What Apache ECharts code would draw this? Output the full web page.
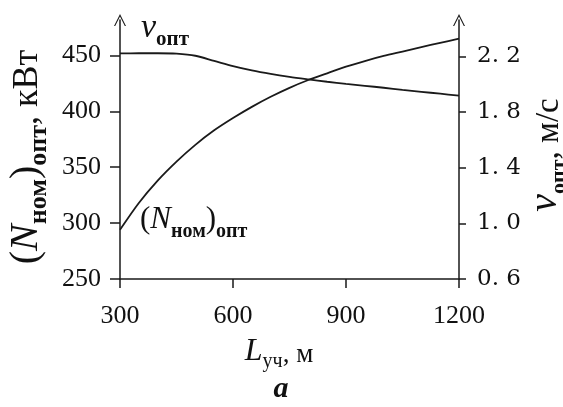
<!DOCTYPE html>
<html>
<head>
<meta charset="utf-8">
<script src="https://cdn.jsdelivr.net/npm/echarts@6/dist/echarts.min.js"></script>
<style>
html,body{margin:0;padding:0;background:#fff;}
#c{width:563px;height:407px;}
</style>
</head>
<body>
<div id="c"></div>
<script>
// Data
var L = [300, 350, 400, 450, 500, 550, 600, 650, 700, 750, 800, 850, 900, 950, 1000, 1050, 1100, 1150, 1200];
var N_opt = [294, 318, 338, 355, 370, 383, 394, 404, 413, 421, 428, 434, 440, 445, 449.5, 453.5, 457.5, 461.3, 465];
var v_opt = [2.222, 2.223, 2.223, 2.220, 2.205, 2.168, 2.130, 2.099, 2.074, 2.053, 2.035, 2.018, 2.003, 1.989, 1.975, 1.960, 1.946, 1.932, 1.918];
var xTicks = [300, 600, 900, 1200];
var leftTicks = [250, 300, 350, 400, 450];
var rightTicks = [0.6, 1.0, 1.4, 1.8, 2.2];

var ink = '#1a1a1a';
var serif = 'Liberation Serif';
var arrow = 'path://M0,12 L6,0 L12,12 L10.8,12 L6,2.4 L1.2,12 Z';

var chart = echarts.init(document.getElementById('c'), null, {renderer: 'canvas'});

function pairs(xs, ys) { return xs.map(function (x, i) { return [x, ys[i]]; }); }

var option = {
  backgroundColor: '#fff',
  animation: false,
  grid: {left: 120, right: 104, top: 20, bottom: 128, containLabel: false},
  xAxis: {
    type: 'value', min: 300, max: 1200, interval: 300,
    axisLine: {show: true, lineStyle: {color: ink, width: 1.5}},
    axisTick: {show: true, inside: false, length: 9, lineStyle: {color: ink, width: 1.5}},
    axisLabel: {margin: 24, fontFamily: serif, fontSize: 26, color: '#111', customValues: xTicks,
      formatter: function (v) { return String(v); }},
    splitLine: {show: false}
  },
  yAxis: [{
    type: 'value', position: 'left', min: 250, max: 481.7,
    axisLine: {show: true, symbol: ['none', arrow], symbolSize: [12, 12], symbolOffset: [0, 0], lineStyle: {color: ink, width: 1.5}},
    axisTick: {show: true, inside: false, length: 10, customValues: leftTicks, lineStyle: {color: ink, width: 1.5}},
    axisLabel: {margin: 19, fontFamily: serif, fontSize: 26, color: '#111', customValues: leftTicks,
      formatter: function (v) { return String(v); }},
    splitLine: {show: false}
  }, {
    type: 'value', position: 'right', min: 0.6, max: 2.462,
    axisLine: {show: true, symbol: ['none', arrow], symbolSize: [12, 12], symbolOffset: [0, 0], lineStyle: {color: ink, width: 1.5}},
    axisTick: {show: true, inside: false, length: 7, customValues: rightTicks, lineStyle: {color: ink, width: 1.5}},
    axisLabel: {margin: 18, fontFamily: 'DejaVu Serif', fontSize: 23, color: '#111', customValues: rightTicks,
      formatter: function (v) { return v.toFixed(1).replace('.', '. '); }},
    splitLine: {show: false}
  }],
  series: [{
    type: 'line', yAxisIndex: 0, data: pairs(L, N_opt), smooth: 0.3, symbol: 'none',
    lineStyle: {color: ink, width: 1.8}
  }, {
    type: 'line', yAxisIndex: 1, data: pairs(L, v_opt), smooth: 0.3, symbol: 'none',
    lineStyle: {color: ink, width: 1.8}
  }],
  graphic: [
    { // left axis name
      type: 'text', x: 29, y: 157, rotation: Math.PI / 2,
      style: {
        text: '{b|(}{i|N}{s|ном}{b|)}{s|опт}{u|, кВт}',
        align: 'center', verticalAlign: 'middle', fill: '#111',
        rich: {
          b: {fontFamily: serif, fontSize: 40, padding: [0, 0, 6, 0], verticalAlign: 'bottom', fill: '#111'},
          i: {fontFamily: serif, fontStyle: 'italic', fontSize: 40, padding: [0, 0, 6, 0], verticalAlign: 'bottom', fill: '#111'},
          s: {fontFamily: serif, fontWeight: 'bold', fontSize: 26, verticalAlign: 'bottom', fill: '#111'},
          u: {fontFamily: serif, fontSize: 36, padding: [0, 0, 6, 0], verticalAlign: 'bottom', fill: '#111'}
        }
      }
    },
    { // right axis name
      type: 'text', x: 548, y: 155, rotation: Math.PI / 2,
      style: {
        text: '{i|v}{s|опт}{u|, м/с}',
        align: 'center', verticalAlign: 'middle', fill: '#111',
        rich: {
          i: {fontFamily: serif, fontStyle: 'italic', fontSize: 40, padding: [0, 0, 5, 0], verticalAlign: 'bottom', fill: '#111'},
          s: {fontFamily: serif, fontWeight: 'bold', fontSize: 22, verticalAlign: 'bottom', fill: '#111'},
          u: {fontFamily: serif, fontSize: 33, padding: [0, 0, 5, 0], verticalAlign: 'bottom', fill: '#111'}
        }
      }
    },
    { // x axis name
      type: 'text', x: 279, y: 354,
      style: {
        text: '{i|L}{s|уч}{u|, м}',
        align: 'center', verticalAlign: 'middle', fill: '#111',
        rich: {
          i: {fontFamily: serif, fontStyle: 'italic', fontSize: 32, padding: [0, 0, 4, 0], verticalAlign: 'bottom', fill: '#111'},
          s: {fontFamily: serif, fontSize: 20, verticalAlign: 'bottom', fill: '#111'},
          u: {fontFamily: serif, fontSize: 27, padding: [0, 0, 4, 0], verticalAlign: 'bottom', fill: '#111'}
        }
      }
    },
    { // subfigure letter
      type: 'text', x: 281, y: 389,
      style: {text: 'a', align: 'center', verticalAlign: 'middle', fill: '#111',
        font: 'italic bold 30px "Liberation Serif"'}
    },
    { // v curve label
      type: 'text', x: 141, y: 31,
      style: {
        text: '{i|v}{s|опт}',
        align: 'left', verticalAlign: 'middle', fill: '#111',
        rich: {
          i: {fontFamily: serif, fontStyle: 'italic', fontSize: 34, padding: [0, 0, 5, 0], verticalAlign: 'bottom', fill: '#111'},
          s: {fontFamily: serif, fontWeight: 'bold', fontSize: 21, verticalAlign: 'bottom', fill: '#111'}
        }
      }
    },
    { // N curve label
      type: 'text', x: 140, y: 223,
      style: {
        text: '{b|(}{i|N}{s|ном}{b|)}{s|опт}',
        align: 'left', verticalAlign: 'middle', fill: '#111',
        rich: {
          b: {fontFamily: serif, fontSize: 31, padding: [0, 0, 6, 0], verticalAlign: 'bottom', fill: '#111'},
          i: {fontFamily: serif, fontStyle: 'italic', fontSize: 31, padding: [0, 0, 6, 0], verticalAlign: 'bottom', fill: '#111'},
          s: {fontFamily: serif, fontWeight: 'bold', fontSize: 20, verticalAlign: 'bottom', fill: '#111'}
        }
      }
    }
  ]
};
chart.setOption(option);
</script>
</body>
</html>
